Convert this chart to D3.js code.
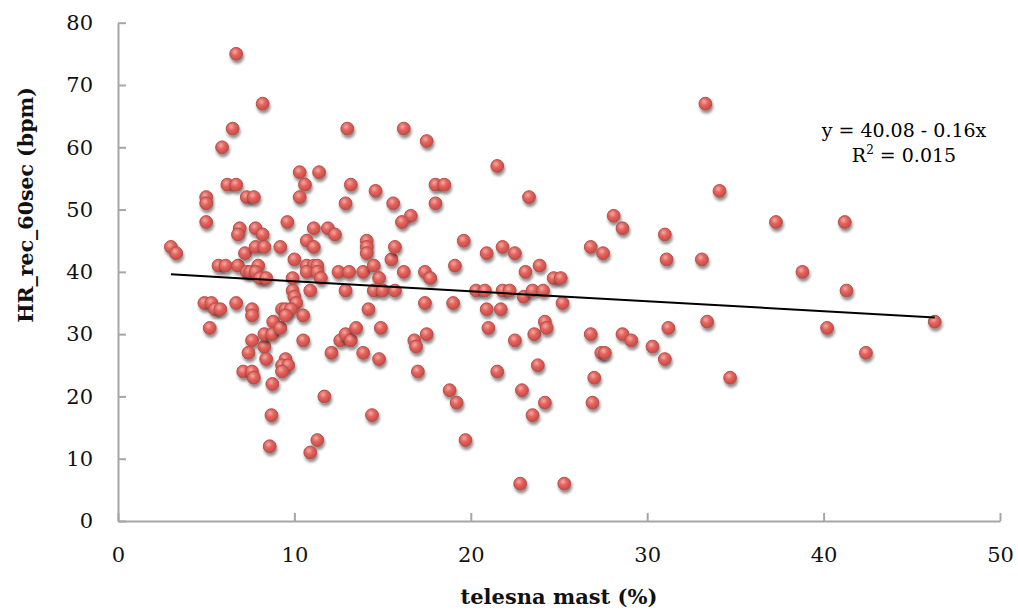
<!DOCTYPE html>
<html><head><meta charset="utf-8">
<script src="https://cdn.jsdelivr.net/npm/d3@7/dist/d3.min.js"></script>
<style>
body{margin:0;background:#fff;}
svg{display:block;}
</style></head>
<body>
<svg id="chart" width="1018" height="610"></svg>
<script>
const xTicks = [0,10,20,30,40,50];
const yTicks = [0,10,20,30,40,50,60,70,80];
const xTitle = "telesna mast (%)";
const yTitle = "HR_rec_60sec (bpm)";
const eqLine1 = "y = 40.08 - 0.16x";
const intercept = 40.08, slope = -0.16;

const fatPct = [3.0,3.3,5.0,5.0,5.0,4.9,5.3,5.5,5.8,5.2,5.7,6.1,5.9,6.2,6.7,6.5,6.7,6.7,6.8,6.9,6.8,7.3,7.7,7.2,7.8,8.2,7.8,8.3,7.3,7.5,7.95,7.8,8.05,8.4,7.6,7.6,7.6,8.3,7.4,8.4,7.1,7.6,7.7,8.8,8.3,8.75,9.2,8.75,8.7,8.6,8.2,9.2,9.6,10.0,9.9,9.9,10.0,10.1,9.3,9.5,9.8,9.5,10.5,10.5,9.5,9.3,9.65,9.3,10.3,11.4,10.6,10.3,11.1,11.9,12.3,10.7,11.1,10.7,11.1,11.3,10.7,11.3,11.5,10.9,12.1,12.6,12.9,13.2,13.5,11.7,11.3,10.9,12.5,13.1,12.9,12.9,13.0,13.2,13.9,14.1,14.1,14.1,14.5,14.8,15.5,15.7,14.6,15.6,14.5,15.0,15.7,14.2,14.9,13.9,14.8,14.4,16.2,17.5,16.6,16.1,16.2,17.4,17.7,17.4,17.5,16.8,16.9,17.0,18.0,18.5,18.0,19.0,18.8,19.2,19.7,19.1,19.6,20.3,20.8,20.9,20.9,21.0,21.5,21.5,21.7,21.8,21.8,22.2,22.5,22.5,22.9,22.8,23.3,23.1,23.0,23.5,24.1,23.9,23.6,24.2,24.3,23.8,24.2,23.5,24.7,25.1,25.2,25.3,26.8,27.5,26.8,27.4,27.6,27.0,26.9,28.1,28.6,28.6,29.1,30.3,31.0,31.1,31.2,31.0,33.3,34.1,33.1,33.4,34.7,37.3,38.8,40.2,41.2,41.3,42.4,46.3];
const hrRec = [44,43,52,51,48,35,35,34,34,31,41,41,60,54,54,63,75,35,41,47,46,52,52,43,47,46,44,44,40,40,41,40,39,39,34,33,29,28,27,26,24,24,23,32,30,30,31,22,17,12,67,44,48,42,39,37,36,35,34,34,34,33,33,29,26,25,25,24,56,56,54,52,47,47,46,45,44,41,41,41,40,40,39,37,27,29,30,29,31,20,13,11,40,40,37,51,63,54,40,45,44,43,41,39,42,44,53,51,37,37,37,34,31,27,26,17,63,61,49,48,40,40,39,35,30,29,28,24,54,54,51,35,21,19,13,41,45,37,37,43,34,31,57,24,34,44,37,37,43,29,21,6,52,40,36,37,37,41,30,32,31,25,19,17,39,39,35,6,44,43,30,27,27,23,19,49,47,30,29,28,46,42,31,26,67,53,42,32,23,48,40,31,48,37,27,32];

const svg = d3.select("#chart");
const x = d3.scaleLinear().domain([0,50]).range([118,1000]);
const y = d3.scaleLinear().domain([0,80]).range([521,22.7]);
const font = "'DejaVu Serif', 'Liberation Serif', serif";

const defs = svg.append("defs");
const grad = defs.append("radialGradient").attr("id","ball")
  .attr("cx","40%").attr("cy","35%").attr("r","65%");
grad.append("stop").attr("offset","0%").attr("stop-color","#f6aaa4");
grad.append("stop").attr("offset","45%").attr("stop-color","#e4645e");
grad.append("stop").attr("offset","100%").attr("stop-color","#c84a45");
const f = defs.append("filter").attr("id","shadow")
  .attr("x","-50%").attr("y","-50%").attr("width","200%").attr("height","220%");
f.append("feGaussianBlur").attr("in","SourceAlpha").attr("stdDeviation",1.6).attr("result","b");
f.append("feOffset").attr("in","b").attr("dx",0.5).attr("dy",3).attr("result","o");
f.append("feComponentTransfer").attr("in","o").attr("result","s")
  .append("feFuncA").attr("type","linear").attr("slope",0.45);
const m = f.append("feMerge");
m.append("feMergeNode").attr("in","s");
m.append("feMergeNode").attr("in","SourceGraphic");

// axes
const yAxis = d3.axisLeft(y).tickValues(yTicks).tickSizeInner(-8).tickSizeOuter(0).tickPadding(25);
const gy = svg.append("g").attr("transform","translate(118,0)").call(yAxis);
const xAxis = d3.axisBottom(x).tickValues(xTicks).tickSizeInner(-8).tickSizeOuter(0).tickPadding(26);
const gx = svg.append("g").attr("transform","translate(0,521)").call(xAxis);
[gx,gy].forEach(g=>{
  g.select(".domain").attr("stroke","#a6a6a6").attr("stroke-width",2);
  g.selectAll(".tick line").attr("stroke","#a6a6a6").attr("stroke-width",2);
  g.selectAll(".tick text").attr("font-family",font).attr("font-size",21).attr("fill","#111");
});

// points
const data = fatPct.map((v,i)=>({x:v,y:hrRec[i]}));
svg.append("g").selectAll("circle").data(data).join("circle")
  .attr("cx",d=>x(d.x)).attr("cy",d=>y(d.y)).attr("r",6.4)
  .attr("fill","url(#ball)").attr("stroke","#b0504b").attr("stroke-width",1)
  .attr("filter","url(#shadow)");

// regression line
const xmin = d3.min(fatPct), xmax = d3.max(fatPct);
svg.append("line")
  .attr("x1",x(xmin)).attr("y1",y(intercept+slope*xmin))
  .attr("x2",x(xmax)).attr("y2",y(intercept+slope*xmax))
  .attr("stroke","#000").attr("stroke-width",2);

// equation
svg.append("text").attr("x",904).attr("y",137).attr("text-anchor","middle")
  .attr("font-family",font).attr("font-size",19).attr("fill","#000").text(eqLine1);
const r2 = svg.append("text").attr("x",904).attr("y",162).attr("text-anchor","middle")
  .attr("font-family",font).attr("font-size",19).attr("fill","#000");
r2.append("tspan").text("R");
r2.append("tspan").attr("dy",-8).attr("font-size",12).text("2");
r2.append("tspan").attr("dy",8).text(" = 0.015");

// titles
svg.append("text").attr("x",559).attr("y",604).attr("text-anchor","middle")
  .attr("font-family",font).attr("font-size",21).attr("font-weight","bold").attr("fill","#111").text(xTitle);
svg.append("text").attr("transform","translate(33,205) rotate(-90)").attr("text-anchor","middle")
  .attr("font-family",font).attr("font-size",20.5).attr("font-weight","bold").attr("fill","#111").text(yTitle);
</script>
</body></html>
